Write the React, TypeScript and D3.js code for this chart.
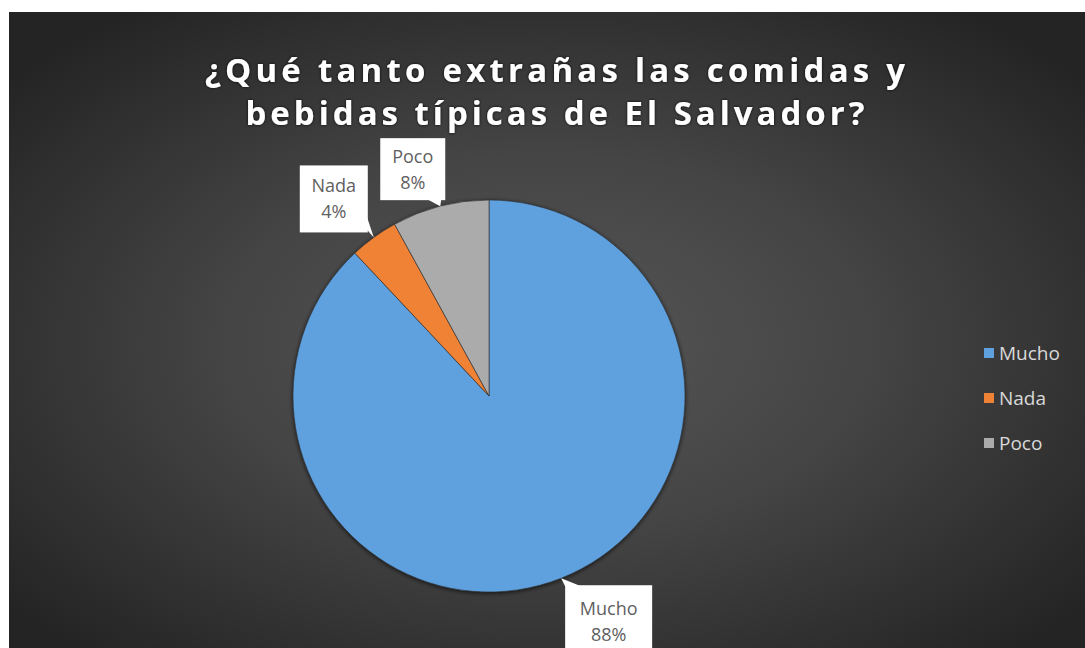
import React from "react";
import * as d3 from "d3";

const categories = ["Mucho", "Nada", "Poco"];
const values = [88, 4, 8];
const percentLabels = ["88%", "4%", "8%"];
const colorsTop = ["#5fa0de", "#f08236", "#ababab"];
const colorsBottom = ["#4688cc", "#e06f22", "#979797"];
const titleLines = ["¿Qué tanto extrañas las comidas y", "bebidas típicas de El Salvador?"];
const titleWidths = [700, 619];

const W = 1085;
const H = 648;
const cx = 489;
const cy = 396;
const R = 196;

// callout box layout relative to anchor (tip) point
const calloutLayout: Record<string, { dx: number; dy: number; w: number; h: number; t: number }> = {
  Mucho: { dx: 4, dy: 7, w: 87, h: 70, t: 30 },
  Nada: { dx: -74, dy: -72, w: 68, h: 67, t: 27 },
  Poco: { dx: -60, dy: -68, w: 65, h: 62, t: 25 },
};

export default function App() {
  const pie = d3.pie<number>().sort(null).value((d) => d);
  const arcs = pie(values);
  const arcGen = d3.arc<d3.PieArcDatum<number>>().innerRadius(0).outerRadius(R);

  const legendY = d3.scalePoint<string>().domain(categories).range([353, 443]);

  return (
    <svg width={W} height={H} style={{ position: "absolute", left: 0, top: 0, display: "block" }}>
      <defs>
        <radialGradient id="bg" cx="50%" cy="52%" r="65%" fx="50%" fy="52%">
          <stop offset="0%" stopColor="#565656" />
          <stop offset="45%" stopColor="#454545" />
          <stop offset="100%" stopColor="#242424" />
        </radialGradient>
        {categories.map((c, i) => (
          <linearGradient key={c} id={`g${i}`} gradientUnits="userSpaceOnUse" x1="0" y1={cy - R} x2="0" y2={cy + R}>
            <stop offset="0%" stopColor={colorsTop[i]} />
            <stop offset="100%" stopColor={colorsBottom[i]} />
          </linearGradient>
        ))}
        <filter id="shadow" x="-20%" y="-20%" width="140%" height="140%">
          <feDropShadow dx="0" dy="1" stdDeviation="2" floodColor="#000" floodOpacity="0.7" />
        </filter>
        <filter id="tshadow" x="-10%" y="-30%" width="120%" height="160%">
          <feDropShadow dx="0" dy="0" stdDeviation="1.5" floodColor="#000" floodOpacity="0.9" />
        </filter>
      </defs>
      <rect x={0} y={0} width={W} height={H} fill="#ffffff" />
      <rect x={9} y={12} width={W - 9} height={H - 12} fill="url(#bg)" />

      <g filter="url(#tshadow)">
        {titleLines.map((t, i) => (
          <text
            key={i}
            x={555}
            y={82 + i * 43}
            textAnchor="middle"
            fill="#ffffff"
            fontFamily="'Open Sans', 'DejaVu Sans', sans-serif"
            fontWeight={700}
            fontSize={33}
            textLength={titleWidths[i]}
            lengthAdjust="spacing"
          >
            {t}
          </text>
        ))}
      </g>

      <g transform={`translate(${cx},${cy})`} filter="url(#shadow)">
        {arcs.map((a, i) => (
          <path key={i} d={arcGen(a) || ""} fill={`url(#g${i})`} stroke="#2b2b2b" strokeWidth={0.6} />
        ))}
      </g>

      {arcs.map((a, i) => {
        const mid = (a.startAngle + a.endAngle) / 2;
        const tx = cx + R * Math.sin(mid);
        const ty = cy - R * Math.cos(mid);
        const lay = calloutLayout[categories[i]];
        const bx = tx + lay.dx;
        const by = ty + lay.dy;
        let tail = "";
        if (categories[i] === "Mucho") {
          tail = `M${bx},${by + 1} L${tx},${ty} L${bx + 16},${by + 1} Z`;
        } else if (categories[i] === "Poco") {
          tail = `M${bx + lay.w - 18},${by + lay.h - 1} L${tx},${ty} L${bx + lay.w - 4},${by + lay.h - 1} Z`;
        } else {
          tail = `M${bx + lay.w - 1},${by + lay.h - 16} L${tx},${ty} L${bx + lay.w - 1},${by + lay.h - 3} Z`;
        }
        return (
          <g key={i}>
            <rect x={bx} y={by} width={lay.w} height={lay.h} fill="#ffffff" />
            <path d={tail} fill="#ffffff" />
            <text
              x={bx + lay.w / 2}
              y={by + lay.t}
              textAnchor="middle"
              fill="#5f5f5f"
              fontFamily="'Open Sans', 'DejaVu Sans', sans-serif"
              fontSize={18}
            >
              {categories[i]}
            </text>
            <text
              x={bx + lay.w / 2}
              y={by + lay.t + 26}
              textAnchor="middle"
              fill="#5f5f5f"
              fontFamily="'Open Sans', 'DejaVu Sans', sans-serif"
              fontSize={18}
            >
              {percentLabels[i]}
            </text>
          </g>
        );
      })}

      {categories.map((c, i) => (
        <g key={c} transform={`translate(984,${legendY(c)})`}>
          <rect x={0} y={-5} width={10} height={10} fill={colorsTop[i]} />
          <text
            x={15}
            y={7}
            fill="#d9d9d9"
            fontFamily="'Open Sans', 'DejaVu Sans', sans-serif"
            fontSize={19}
          >
            {c}
          </text>
        </g>
      ))}
    </svg>
  );
}
